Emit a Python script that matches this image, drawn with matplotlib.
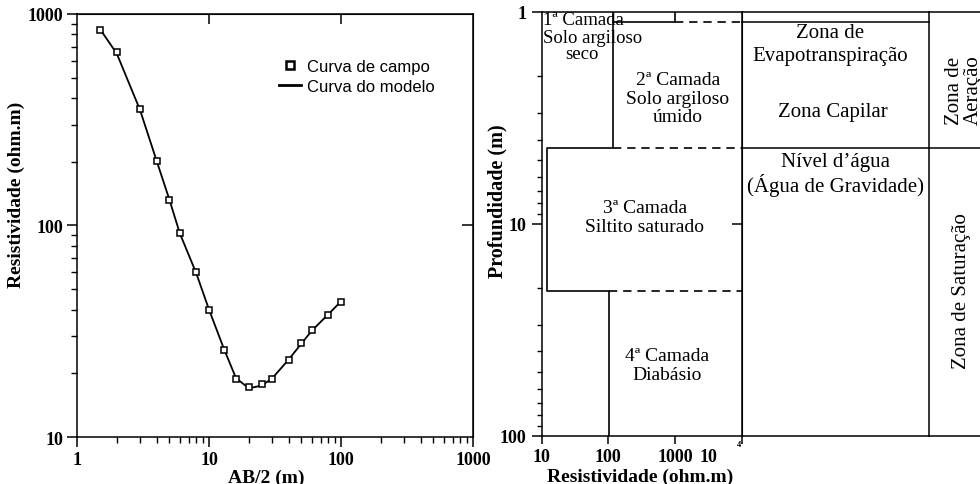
import matplotlib
matplotlib.use("Agg")
import matplotlib.pyplot as plt
import matplotlib.transforms as mtransforms
from matplotlib.ticker import NullLocator, NullFormatter

plt.rcParams["font.family"] = "Liberation Serif"
plt.rcParams["font.weight"] = "bold"
plt.rcParams["axes.labelweight"] = "bold"

# --- Curva de sondagem (SEV) ---
ab2 = [1.5, 2, 3, 4, 5, 6, 8, 10, 13, 16, 20, 25, 30, 40, 50, 60, 80, 100]
rho_campo = [840, 662, 355, 201, 132, 92, 60, 39.8, 25.8, 18.9, 17.3, 17.8,
             18.9, 23.0, 27.8, 31.9, 37.8, 43.7]
rho_modelo = [845, 650, 352, 203, 133, 92, 59.5, 40, 26, 19, 17.0, 17.5,
              18.9, 23.2, 27.6, 31.8, 38, 43.8]

# --- Modelo geoelétrico ---
camada_rho = [1000, 118, 12, 103]       # ohm.m
camada_base = [1.11, 4.4, 20.7]        # profundidade das interfaces (m)
prof_min, prof_max = 1, 100

ticks_esq_x = [1, 10, 100, 1000]
ticks_esq_y = [10, 100, 1000]
ticks_dir_x = [10, 100, 1000, 10000]
ticks_dir_y = [1, 10, 100]

fig = plt.figure(figsize=(9.8, 4.85), dpi=100)

# ================= grafico da esquerda =================
ax1 = fig.add_axes([0.0786, 0.0969, 0.4041, 0.8722])
ax1.set_xscale("log")
ax1.set_yscale("log")
ax1.set_xlim(1, 1000)
ax1.set_ylim(10, 1000)

ax1.plot(ab2, rho_modelo, color="black", lw=1.3, zorder=2)
ax1.plot(ab2, rho_campo, ls="none", marker="s", ms=5, mfc="white",
         mec="black", mew=1.1, zorder=3)

h_campo, = ax1.plot([], [], ls="none", marker="s", ms=6, mfc="white",
                    mec="black", mew=1.8, label="Curva de campo")
h_mod, = ax1.plot([], [], color="black", lw=2, label="Curva do modelo")
ax1.legend(handles=[h_campo, h_mod], loc="upper left",
           bbox_to_anchor=(0.51, 0.893), frameon=False,
           prop={"family": "Liberation Sans", "size": 12, "weight": "normal"},
           handlelength=1.3, handletextpad=0.4, borderpad=0,
           borderaxespad=0, labelspacing=0.3)

ax1.set_xticks(ticks_esq_x, labels=[f"{v:g}" for v in ticks_esq_x],
               fontweight="bold")
ax1.set_yticks(ticks_esq_y, labels=[f"{v:g}" for v in ticks_esq_y],
               fontweight="bold")
ax1.xaxis.set_minor_formatter(NullFormatter())
ax1.yaxis.set_minor_formatter(NullFormatter())
ax1.tick_params(which="major", direction="out", length=7, width=1.1,
                labelsize=13, pad=3)
ax1.tick_params(which="minor", direction="out", length=4, width=1.0)
for s in ax1.spines.values():
    s.set_linewidth(1.1)

sx = ax1.secondary_xaxis("top")
sx.set_xticks([10, 100])
sx.xaxis.set_minor_locator(NullLocator())
sx.tick_params(direction="in", length=7, width=1.1, labeltop=False)
sy = ax1.secondary_yaxis("right")
sy.set_yticks([100])
sy.yaxis.set_minor_locator(NullLocator())
sy.tick_params(direction="in", length=8, width=1.1, labelright=False)

ax1.set_xlabel("AB/2 (m)", fontsize=14, fontweight="bold")
ax1.xaxis.label.set_va("center")
ax1.xaxis.set_label_coords(0.477, -0.095)
ax1.set_ylabel("Resistividade (ohm.m)", fontsize=14, fontweight="bold")
ax1.yaxis.label.set_va("center")
ax1.yaxis.set_label_coords(-0.152, 0.574)

# ================= grafico da direita =================
ax2 = fig.add_axes([0.5527, 0.0996, 0.2041, 0.8736])
ax2.set_xscale("log")
ax2.set_yscale("log")
ax2.set_xlim(10, 10000)
ax2.set_ylim(prof_max, prof_min)

xs, ys = [], []
topo = prof_min
for i, r in enumerate(camada_rho):
    base = camada_base[i] if i < len(camada_base) else prof_max
    xs += [r, r]
    ys += [topo, base]
    topo = base
ax2.plot(xs, ys, color="black", lw=1.2)
ax2.plot([camada_rho[1], camada_rho[1]], [prof_min, camada_base[0]],
         color="black", lw=1.2)
for i, z in enumerate(camada_base):
    ax2.plot([max(camada_rho[i], camada_rho[i + 1]), 10000], [z, z],
             color="black", lw=1.2, dashes=(5, 3.5))

ax2.set_xticks(ticks_dir_x, labels=["10", "100", "1000", ""],
               fontweight="bold")
ax2.set_yticks(ticks_dir_y, labels=[f"{v:g}" for v in ticks_dir_y],
               fontweight="bold")
ax2.xaxis.set_minor_formatter(NullFormatter())
ax2.yaxis.set_minor_formatter(NullFormatter())
ax2.tick_params(axis="y", which="major", direction="out", length=7,
                width=1.1, labelsize=13, pad=4)
ax2.tick_params(axis="x", which="major", direction="out", length=6,
                width=1.1, labelsize=13, pad=3)
ax2.tick_params(which="minor", direction="out", length=3.5, width=1.0)
for s in ax2.spines.values():
    s.set_linewidth(1.1)
ax2.text(0.835, -0.048, "10", transform=ax2.transAxes, fontsize=13,
         fontweight="bold", ha="center", va="center")
ax2.text(0.985, -0.02, "4", transform=ax2.transAxes, fontsize=6,
         fontweight="bold", ha="center", va="center")

sy2 = ax2.secondary_yaxis("right")
sy2.set_yticks([10])
sy2.yaxis.set_minor_locator(NullLocator())
sy2.tick_params(direction="in", length=7, width=1.1, labelright=False)

ax2.set_xlabel("Resistividade (ohm.m)", fontsize=14, fontweight="bold")
ax2.xaxis.label.set_va("center")
ax2.xaxis.set_label_coords(0.4915, -0.095)
ax2.set_ylabel("Profundidade (m)", fontsize=14.5, fontweight="bold")
ax2.yaxis.label.set_va("center")
ax2.yaxis.set_label_coords(-0.2185, 0.556)

# quadro das zonas (a direita do eixo)
tr = mtransforms.blended_transform_factory(ax2.transAxes, ax2.transData)
kw = dict(color="black", lw=1.1, transform=tr, clip_on=False)
ax2.plot([1, 2.4], [prof_min, prof_min], **kw)
ax2.plot([1, 2.4], [prof_max, prof_max], **kw)
ax2.plot([1, 1.935], [camada_base[0], camada_base[0]], **kw)
ax2.plot([1, 2.4], [camada_base[1], camada_base[1]], **kw)
ax2.plot([1.935, 1.935], [prof_min, prof_max], **kw)

tkw = dict(transform=ax2.transAxes, fontweight="normal", ha="center",
           va="center")
ax2.text(0.0065, 0.961, "1ª Camada\nSolo argiloso", fontsize=13.5,
         linespacing=1.15, **{**tkw, "ha": "left"})
ax2.text(0.2015, 0.901, "seco", fontsize=13.5, **tkw)
ax2.text(0.68, 0.797, "2ª Camada\nSolo argiloso\númido", fontsize=14,
         linespacing=1.1, **tkw)
ax2.text(0.5165, 0.517, "3ª Camada\nSiltito saturado", fontsize=14,
         linespacing=1.15, **tkw)
ax2.text(0.625, 0.167, "4ª Camada\nDiabásio", fontsize=14,
         linespacing=1.15, **tkw)
ax2.text(1.4415, 0.9245, "Zona de\nEvapotranspiração", fontsize=15,
         linespacing=1.3, **tkw)
ax2.text(1.4565, 0.766, "Zona Capilar", fontsize=15, **tkw)
ax2.text(1.4715, 0.617, "Nível d’água\n(Água de Gravidade)", fontsize=15,
         linespacing=1.1, **tkw)
ax2.text(2.1015, 0.3426, "Zona de Saturação", fontsize=15, rotation=90,
         **tkw)
ax2.text(2.11, 0.818, "Zona de\nAeração", fontsize=15, rotation=90,
         linespacing=1.0, multialignment="left", **tkw)

fig.savefig("out.png", dpi=100)
